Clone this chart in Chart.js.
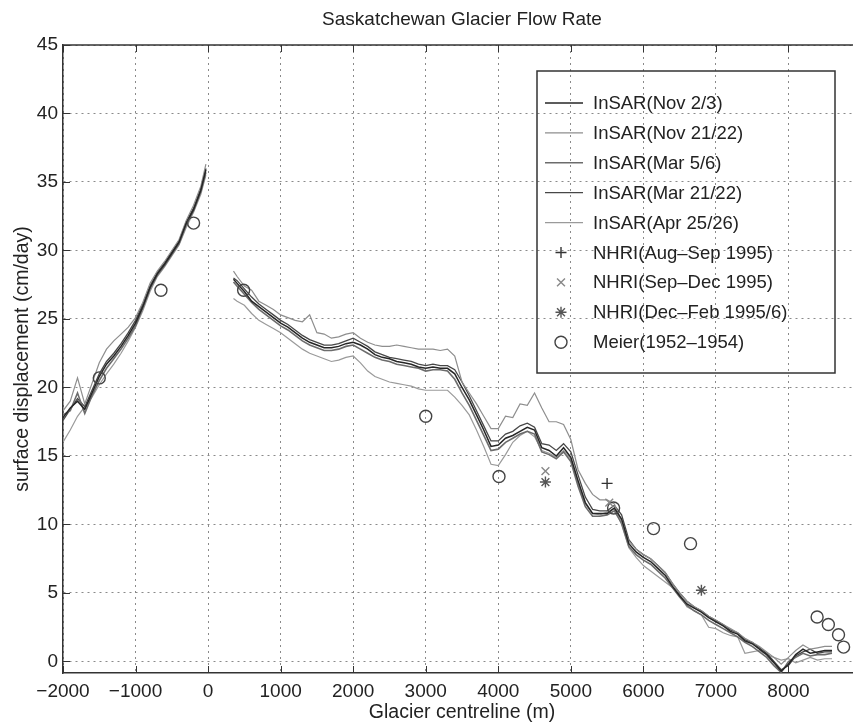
<!DOCTYPE html>
<html>
<head>
<meta charset="utf-8">
<title>Saskatchewan Glacier Flow Rate</title>
<script src="https://cdn.jsdelivr.net/npm/chart.js@4.4.1/dist/chart.umd.min.js"></script>
<style>
  html, body { margin: 0; padding: 0; background: #fff; overflow: hidden; }
  #wrap { width: 880px; height: 725px; }
</style>
</head>
<body>
<div id="wrap"><canvas id="flowChart" width="880" height="725"></canvas></div>
<script>
const FONT = "'Liberation Sans', Arial, Helvetica, sans-serif";
const INK = "#222";

// distance along the centreline (m); 160 is the gap between the two InSAR segments
const distance = [
  -2000, -1900, -1800, -1700, -1600, -1500, -1400, -1300, -1200, -1100,
  -1000, -900, -800, -700, -600, -500, -400, -300, -200, -100, -30,
  160,
  350, 400, 500, 600, 700, 800, 900,
  1000, 1100, 1200, 1300, 1400, 1500, 1600, 1700, 1800, 1900,
  2000, 2100, 2200, 2300, 2400, 2500, 2600, 2700, 2800, 2900,
  3000, 3100, 3200, 3300, 3400, 3500, 3600, 3700, 3800, 3900,
  4000, 4100, 4200, 4300, 4400, 4500, 4600, 4700, 4800, 4900,
  5000, 5100, 5200, 5300, 5400, 5500, 5600, 5700, 5800, 5900,
  6000, 6100, 6200, 6300, 6400, 6500, 6600, 6700, 6800, 6900,
  7000, 7100, 7200, 7300, 7400, 7500, 7600, 7700, 7800, 7900,
  8000, 8100, 8200, 8300, 8400, 8500, 8600
];

const insarNov2 = [
  17.8, 18.5, 19.0, 18.4, 19.6, 20.8, 21.7, 22.3, 23.0, 23.8,
  24.7, 25.9, 27.3, 28.3, 29.0, 29.8, 30.6, 32.0, 33.0, 34.4, 35.9,
  null,
  27.9, 27.6, 27.0, 26.3, 25.9, 25.5, 25.1,
  24.7, 24.4, 24.0, 23.6, 23.3, 23.1, 22.9, 22.9, 23.0, 23.2,
  23.3, 23.1, 22.8, 22.4, 22.2, 22.1, 21.9, 21.8, 21.7, 21.5,
  21.4, 21.5, 21.4, 21.4, 21.0, 20.0, 19.1, 18.0, 16.9, 15.7,
  15.8, 16.3, 16.5, 16.8, 17.1, 16.9, 15.6, 15.4, 15.0, 15.6,
  14.9, 13.2, 11.6, 10.8, 10.8, 10.8, 11.2, 10.4, 8.6, 8.0,
  7.6, 7.3, 6.8, 6.3, 5.5, 4.8, 4.2, 3.9, 3.6, 3.2,
  2.9, 2.6, 2.2, 2.0, 1.5, 1.3, 0.9, 0.5, -0.1, -0.7,
  -0.2, 0.5, 0.9, 0.6, 0.7, 0.8, 0.8
];

const insarNov21 = [
  18.3, 19.0, 20.7, 18.8, 20.3, 21.8, 22.8, 23.4, 23.9, 24.4,
  25.1, 26.2, 27.6, 28.5, 29.2, 30.0, 30.8, 32.2, 33.3, 34.7, 36.3,
  null,
  28.5, 28.1, 27.4, 27.1, 26.3, 26.0, 25.7,
  25.3, 25.1, 24.9, 24.8, 25.3, 24.0, 23.9, 23.6, 23.7, 23.9,
  24.0, 23.6, 23.3, 23.1, 23.0, 23.0, 23.1, 23.0, 22.9, 22.8,
  22.8, 22.8, 22.7, 22.8, 22.3, 20.4, 19.6, 18.8, 17.9, 17.0,
  17.0, 17.9, 17.8, 18.8, 18.7, 19.6, 18.5, 17.5, 17.5, 17.3,
  16.2, 14.0, 13.0, 12.2, 11.8, 11.8, 11.5, 10.2, 8.8, 8.2,
  7.8, 7.5, 7.0, 6.5, 5.7, 5.0, 4.4, 4.0, 3.7, 3.3,
  3.0, 2.7, 2.4, 2.1, 1.7, 1.4, 1.1, 0.7, 0.3, -0.2,
  0.3, 0.8, 1.2, 0.9, 1.0, 1.1, 1.1
];

const insarMar5 = [
  18.0, 18.3, 19.6, 18.1, 19.4, 20.5, 21.4, 22.1, 22.8, 23.6,
  24.5, 25.8, 27.2, 28.2, 28.9, 29.7, 30.5, 31.9, 32.9, 34.3, 35.7,
  null,
  27.7, 27.4, 26.8, 26.2, 25.7, 25.3, 24.9,
  24.5, 24.2, 23.8, 23.4, 23.1, 22.9, 22.7, 22.7, 22.8, 23.0,
  23.1, 22.8, 22.5, 22.2, 22.0, 21.9, 21.7, 21.6, 21.5, 21.4,
  21.2, 21.3, 21.3, 21.2, 20.6, 19.6, 18.7, 17.6, 16.5, 15.4,
  15.5, 16.0, 16.3, 16.6, 16.8, 16.6, 15.3, 15.1, 14.8, 15.3,
  14.6, 12.8, 11.3, 10.6, 10.6, 10.7, 11.0, 10.1, 8.4, 7.8,
  7.4, 7.1, 6.6, 6.1, 5.4, 4.7, 4.1, 3.7, 3.4, 3.0,
  2.7, 2.4, 2.1, 1.8, 1.4, 1.1, 0.7, 0.3, -0.3, -0.8,
  0.0, 0.3, 0.6, 0.4, 0.5, 0.5, 0.6
];

const insarMar21 = [
  17.6, 18.4, 19.2, 18.6, 19.8, 21.0, 21.9, 22.5, 23.2, 24.0,
  24.9, 26.1, 27.4, 28.4, 29.1, 29.9, 30.7, 32.1, 33.1, 34.5, 36.0,
  null,
  28.0, 27.8, 27.2, 26.6, 26.1, 25.7, 25.3,
  24.9, 24.6, 24.2, 23.8, 23.5, 23.3, 23.1, 23.1, 23.2, 23.4,
  23.6, 23.3, 23.0, 22.6, 22.4, 22.2, 22.1, 22.0, 21.9, 21.7,
  21.6, 21.7, 21.6, 21.6, 21.3, 20.4, 19.4, 18.3, 17.2, 16.1,
  16.1, 16.6, 16.8, 17.2, 17.4, 17.1, 15.9, 15.8, 15.4, 15.9,
  15.3, 13.6, 12.0, 11.1, 11.0, 11.0, 11.4, 10.7, 8.9, 8.2,
  7.8, 7.5, 7.0, 6.5, 5.7, 5.0, 4.4, 4.0, 3.7, 3.3,
  3.0, 2.7, 2.3, 2.1, 1.6, 1.4, 1.0, 0.6, 0.0, -0.6,
  -0.3, 0.4, 0.7, 0.9, 0.6, 0.7, 0.7
];

const insarApr25 = [
  16.0, 16.9, 17.9, 18.6, 19.3, 20.2, 21.0, 21.7, 22.5, 23.4,
  24.4, 25.6, 27.0, 28.1, 28.8, 29.6, 30.4, 31.7, 32.8, 34.1, 35.5,
  null,
  26.5, 26.3, 26.0, 25.4, 24.9, 24.6, 24.3,
  24.0, 23.6, 23.2, 22.8, 22.5, 22.3, 22.1, 21.9, 22.0, 22.2,
  22.3, 21.8, 21.2, 20.8, 20.6, 20.4, 20.3, 20.2, 20.1, 19.9,
  19.8, 19.8, 19.8, 19.8, 19.3, 18.7, 18.0, 16.9, 15.7, 14.4,
  14.3, 15.1, 16.0, 16.5, 16.8, 16.4, 15.4, 15.2, 14.9, 15.4,
  14.8, 13.0, 11.5, 10.8, 10.7, 10.9, 11.2, 10.0, 8.3, 7.6,
  7.0, 6.6, 6.2, 5.8, 5.4, 4.9, 4.0, 3.7, 3.4, 2.5,
  2.4, 2.1, 1.9, 1.8, 0.6, 0.7, 0.8, 0.5, 0.3, 0.1,
  0.2, -0.1, 0.1, 0.3, 0.1, 0.2, 0.2
];

const nhriAugSepX = [5500];
const nhriAugSepY = [13.0];
const nhriSepDecX = [4650, 5530];
const nhriSepDecY = [13.9, 11.6];
const nhriDecFebX = [4650, 6800];
const nhriDecFebY = [13.1, 5.2];
const meierX = [-1500, -650, -200, 490, 3000, 4010, 5590, 6140, 6650, 8395, 8550, 8690, 8760];
const meierY = [20.7, 27.1, 32.0, 27.1, 17.9, 13.5, 11.2, 9.7, 8.6, 3.25, 2.7, 1.95, 1.05];

const xTicks = [-2000, -1000, 0, 1000, 2000, 3000, 4000, 5000, 6000, 7000, 8000];
const yTicks = [0, 5, 10, 15, 20, 25, 30, 35, 40, 45];

function toPoints(xs, ys) {
  return xs.map((x, i) => ({ x: x, y: ys[i] }));
}

function lineSet(label, ys, color, width) {
  return {
    label: label,
    data: toPoints(distance, ys),
    borderColor: color,
    borderWidth: width,
    pointRadius: 0,
    spanGaps: false,
    tension: 0,
    order: 1
  };
}

function markerSet(label, xs, ys, style, color, radius) {
  return {
    label: label,
    data: toPoints(xs, ys),
    showLine: false,
    pointStyle: style,
    pointRadius: radius,
    pointBorderColor: color,
    pointBackgroundColor: "rgba(0,0,0,0)",
    pointBorderWidth: 1.4,
    borderColor: color,
    order: 0
  };
}

function drawMarker(ctx, style, x, y, r, color) {
  ctx.save();
  ctx.strokeStyle = color;
  ctx.lineWidth = 1.4;
  ctx.beginPath();
  if (style === "cross" || style === "star") {
    ctx.moveTo(x - r, y); ctx.lineTo(x + r, y);
    ctx.moveTo(x, y - r); ctx.lineTo(x, y + r);
  }
  if (style === "crossRot" || style === "star") {
    const d = r * 0.72;
    ctx.moveTo(x - d, y - d); ctx.lineTo(x + d, y + d);
    ctx.moveTo(x - d, y + d); ctx.lineTo(x + d, y - d);
  }
  if (style === "circle") {
    ctx.arc(x, y, r, 0, Math.PI * 2);
  }
  ctx.stroke();
  ctx.restore();
}

// box frame, inward tick marks and the legend, drawn the MATLAB way
const axesFrame = {
  id: "axesFrame",
  afterDraw(chart) {
    const ctx = chart.ctx;
    const area = chart.chartArea;
    const xs = chart.scales.x;
    const ys = chart.scales.y;

    ctx.save();
    ctx.strokeStyle = "#333";
    ctx.lineWidth = 1.5;
    ctx.beginPath();
    ctx.moveTo(area.left, area.top);
    ctx.lineTo(area.right, area.top);
    ctx.stroke();

    ctx.lineWidth = 1;
    ctx.beginPath();
    xTicks.forEach(v => {
      const px = Math.round(xs.getPixelForValue(v)) + 0.5;
      ctx.moveTo(px, area.bottom); ctx.lineTo(px, area.bottom - 7);
      ctx.moveTo(px, area.top); ctx.lineTo(px, area.top + 7);
    });
    yTicks.forEach(v => {
      const py = Math.round(ys.getPixelForValue(v)) + 0.5;
      ctx.moveTo(area.left, py); ctx.lineTo(area.left + 7, py);
    });
    ctx.stroke();
    ctx.restore();

    drawLegend(chart);
  }
};

function drawLegend(chart) {
  const ctx = chart.ctx;
  const box = { left: 537, top: 71, right: 835, bottom: 373 };
  const firstRow = 103;
  const rowStep = 29.9;

  ctx.save();
  ctx.strokeStyle = "#333";
  ctx.lineWidth = 1.5;
  ctx.strokeRect(box.left, box.top, box.right - box.left, box.bottom - box.top);

  ctx.font = "18.5px " + FONT;
  ctx.fillStyle = INK;
  ctx.textBaseline = "middle";
  ctx.textAlign = "left";

  chart.data.datasets.forEach((ds, i) => {
    const y = firstRow + i * rowStep;
    if (ds.showLine === false) {
      drawMarker(ctx, ds.pointStyle, 561, y, ds.pointRadius, ds.pointBorderColor);
    } else {
      ctx.strokeStyle = ds.borderColor;
      ctx.lineWidth = ds.borderWidth;
      ctx.beginPath();
      ctx.moveTo(545, y);
      ctx.lineTo(583, y);
      ctx.stroke();
    }
    ctx.fillText(ds.label, 593, y + 1);
  });
  ctx.restore();
}

function renderChart() {
  const ctx = document.getElementById("flowChart");
  new Chart(ctx, {
    type: "line",
    data: {
      datasets: [
        lineSet("InSAR(Nov 2/3)", insarNov2, "#262626", 1.5),
        lineSet("InSAR(Nov 21/22)", insarNov21, "#8e8e8e", 1.2),
        lineSet("InSAR(Mar 5/6)", insarMar5, "#6c6c6c", 1.6),
        lineSet("InSAR(Mar 21/22)", insarMar21, "#474747", 1.3),
        lineSet("InSAR(Apr 25/26)", insarApr25, "#9a9a9a", 1.2),
        markerSet("NHRI(Aug\u2013Sep 1995)", nhriAugSepX, nhriAugSepY, "cross", "#333", 5.5),
        markerSet("NHRI(Sep\u2013Dec 1995)", nhriSepDecX, nhriSepDecY, "crossRot", "#888", 5.5),
        markerSet("NHRI(Dec\u2013Feb 1995/6)", nhriDecFebX, nhriDecFebY, "star", "#555", 5.5),
        markerSet("Meier(1952\u20131954)", meierX, meierY, "circle", "#444", 6)
      ]
    },
    options: {
      responsive: false,
      animation: false,
      events: [],
      layout: { padding: { left: 0, right: 19, top: 0, bottom: 0 } },
      plugins: {
        legend: { display: false },
        tooltip: { enabled: false },
        title: {
          display: true,
          text: "Saskatchewan Glacier Flow Rate",
          fullSize: false,
          color: INK,
          font: { family: FONT, size: 19, weight: "normal" },
          padding: { top: 8, bottom: 14.2 }
        }
      },
      scales: {
        x: {
          type: "linear",
          min: -2000,
          max: 9000,
          afterBuildTicks: scale => { scale.ticks = xTicks.map(v => ({ value: v })); },
          afterFit: scale => { scale.height = 52; },
          ticks: {
            autoSkip: false,
            maxRotation: 0,
            padding: 7,
            color: INK,
            font: { family: FONT, size: 19 },
            callback: v => String(v).replace("-", "\u2212")
          },
          grid: { color: "#8a8a8a", lineWidth: 1, drawTicks: false },
          border: { display: true, color: "#333", width: 1.5, dash: [2, 4] },
          title: {
            display: true,
            text: "Glacier centreline (m)",
            color: INK,
            font: { family: FONT, size: 19.5 },
            padding: { top: 0, bottom: 1 }
          }
        },
        y: {
          type: "linear",
          min: -0.84,
          max: 45,
          afterBuildTicks: scale => { scale.ticks = yTicks.map(v => ({ value: v })); },
          afterFit: scale => { scale.width = 63; },
          ticks: {
            padding: 5,
            color: INK,
            font: { family: FONT, size: 19 }
          },
          grid: { color: "#8a8a8a", lineWidth: 1, drawTicks: false },
          border: { display: true, color: "#333", width: 1.5, dash: [2, 4] },
          title: {
            display: true,
            text: "surface displacement (cm/day)",
            color: INK,
            font: { family: FONT, size: 19.5 },
            padding: { top: 11, bottom: 0 }
          }
        }
      }
    },
    plugins: [axesFrame]
  });
}

document.addEventListener("DOMContentLoaded", renderChart);
</script>
</body>
</html>
